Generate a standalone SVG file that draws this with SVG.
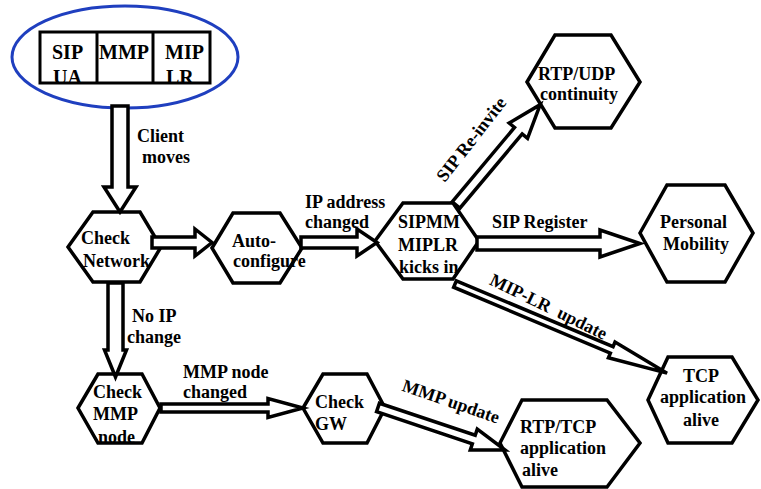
<svg xmlns="http://www.w3.org/2000/svg" width="761" height="489" viewBox="0 0 761 489">
<style>
  text { font-family: "Liberation Serif", "Times New Roman", serif; font-weight: bold; font-size: 18px; fill: #000; }
  .big { font-size: 20px; }
  .hex { fill: #fff; stroke: #000; stroke-width: 3.5; stroke-linejoin: miter; }
  .arr { fill: #fff; stroke: #000; stroke-width: 3.5; stroke-linejoin: miter; }
  .box { fill: none; stroke: #000; stroke-width: 3; }
</style>
<rect width="761" height="489" fill="#fff"/>

<g id="client">
  <ellipse cx="125" cy="57" rx="113" ry="51" fill="#fff" stroke="#1f3fbf" stroke-width="3"/>
  <text class="big" x="52" y="59">SIP</text>
  <text class="big" x="53" y="84">UA</text>
  <text class="big" x="99" y="59">MMP</text>
  <text class="big" x="165" y="59">MIP</text>
  <text class="big" x="166" y="84">LR</text>
  <rect class="box" x="40" y="32" width="170" height="51"/>
  <line class="box" x1="97" y1="32" x2="97" y2="83"/>
  <line class="box" x1="153" y1="32" x2="153" y2="83"/>
</g>

<g id="check-network">
  <polygon class="hex" points="68,247 93,212 140,212 161,247 140,282 93,282"/>
</g>
<g id="auto-configure">
  <polygon class="hex" points="212,248 233,213 280,213 302,248 280,283 233,283"/>
</g>
<g id="sipmm">
  <polygon class="hex" points="375,241 403,203 453,203 479,241 453,279 403,279"/>
</g>
<g id="rtp-udp">
  <polygon class="hex" points="527,82 555,35 611,35 640,82 611,128 555,128"/>
</g>
<g id="personal-mobility">
  <polygon class="hex" points="640,233 667,185 725,185 753,233 725,282 667,282"/>
</g>
<g id="tcp-alive">
  <polygon class="hex" points="648,400 668,357 732,357 758,400 732,443 668,443"/>
</g>
<g id="rtp-tcp-alive">
  <polygon class="hex" points="500,443 522,400 607,400 640,443 607,487 522,487"/>
</g>
<g id="check-mmp">
  <polygon class="hex" points="78,408 98,374 142,374 160,408 142,443 98,443"/>
</g>
<g id="check-gw">
  <polygon class="hex" points="303,408 323,374 367,374 385,408 367,443 323,443"/>
</g>

<g id="connectors">
  <path class="arr" transform="translate(120,106) rotate(90)" d="M0,-8 H81 V-16 L106,0 L81,16 V8 H0 Z"/>
  <path class="arr" transform="translate(152,242.5)" d="M0,-5.5 H43 V-13.5 L60,0 L43,13.5 V5.5 H0 Z"/>
  <path class="arr" transform="translate(301,242.5)" d="M0,-5.5 H56 V-13.5 L76,0 L56,13.5 V5.5 H0 Z"/>
  <path class="arr" transform="translate(456,205) rotate(-50)" d="M0,-5 H97 V-12 L131,0 L97,12 V5 H0 Z"/>
  <path class="arr" transform="translate(477,243.5)" d="M0,-6.5 H123 V-13.5 L163,0 L123,13.5 V6.5 H0 Z"/>
  <path class="arr" transform="translate(455,284) rotate(22.8)" d="M0,-3.5 H170 V-8.5 L230,0 L170,8.5 V3.5 H0 Z"/>
  <path class="arr" transform="translate(161,408)" d="M0,-4 H107 V-9.5 L142,0 L107,9.5 V4 H0 Z"/>
  <path class="arr" transform="translate(115.5,283) rotate(90)" d="M0,-7.5 H67 V-11 L94,0 L67,11 V7.5 H0 Z"/>
  <path class="arr" transform="translate(378,407.5) rotate(18.5)" d="M0,-4.5 H101 V-11 L134,0 L101,11 V4.5 H0 Z"/>

  <text x="137" y="142">Client</text>
  <text x="142" y="163">moves</text>
  <text x="305" y="208">IP address</text>
  <text x="305" y="228">changed</text>
  <text transform="translate(476,143) rotate(-52)" text-anchor="middle">SIP Re-invite</text>
  <text x="492" y="228">SIP Register</text>
  <text transform="translate(546,312) rotate(26)" text-anchor="middle" xml:space="preserve">MIP-LR  update</text>
  <text x="132" y="322">No IP</text>
  <text x="127" y="343">change</text>
  <text x="183" y="378">MMP node</text>
  <text x="183" y="398">changed</text>
  <text transform="translate(449,407) rotate(19)" text-anchor="middle">MMP update</text>
</g>

<g id="node-labels">
  <text x="81" y="244">Check</text>
  <text x="83" y="267">Network</text>
  <text x="232" y="247">Auto-</text>
  <text x="233" y="267">configure</text>
  <text x="398" y="228">SIPMM</text>
  <text x="398" y="251">MIPLR</text>
  <text x="399" y="273">kicks in</text>
  <text x="538" y="80">RTP/UDP</text>
  <text x="540" y="100">continuity</text>
  <text x="660" y="228">Personal</text>
  <text x="663" y="250">Mobility</text>
  <text x="683" y="382">TCP</text>
  <text x="660" y="403">application</text>
  <text x="683" y="426">alive</text>
  <text x="520" y="433">RTP/TCP</text>
  <text x="520" y="454">application</text>
  <text x="522" y="476">alive</text>
  <text x="93" y="398">Check</text>
  <text x="93" y="420">MMP</text>
  <text x="98" y="443">node</text>
  <text x="315" y="408">Check</text>
  <text x="315" y="430">GW</text>
</g>
</svg>
